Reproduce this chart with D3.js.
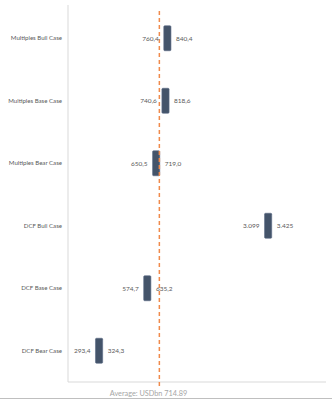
<!DOCTYPE html>
<html><head><meta charset="utf-8">
<script src="https://cdn.jsdelivr.net/npm/d3@7/dist/d3.min.js"></script>
<style>
html,body{margin:0;padding:0;background:#fff;}
svg{display:block;font-family:Lato,"Liberation Sans",sans-serif;}
</style></head>
<body><svg id="c" width="332" height="403"></svg>
<script>
const categories = ["Multiples Bull Case","Multiples Base Case","Multiples Bear Case","DCF Bull Case","DCF Base Case","DCF Bear Case"];
const lowValues = [760.4, 740.6, 650.5, 3099, 574.7, 293.4];
const highValues = [840.4, 818.6, 719.0, 3425, 635.2, 324.3];
const lowLabels = ["760,4","740,6","650,5","3.099","574,7","293,4"];
const highLabels = ["840,4","818,6","719,0","3.425","635,2","324,3"];
const average = 714.89;
const averageLabel = "Average: USDbn 714.89";

(function () {
const svg = d3.select("#c");
const mL = 68, mR = 326, mT = 7, mB = 382;

const x = d3.scaleLog().domain([200, 7300]).range([mL, mR]);
const y = d3.scaleBand().domain(categories).range([mT, mB]).paddingInner(0.6).paddingOuter(0.3);

// axes lines
svg.append("line").attr("x1", mL).attr("x2", mL).attr("y1", 5).attr("y2", mB)
  .attr("stroke", "#d9d9d9").attr("stroke-width", 1);
svg.append("line").attr("x1", mL).attr("x2", mR).attr("y1", mB).attr("y2", mB)
  .attr("stroke", "#d9d9d9").attr("stroke-width", 1);
// bottom frame line
svg.append("line").attr("x1", 0).attr("x2", 332).attr("y1", 398.5).attr("y2", 398.5)
  .attr("stroke", "#bfbfbf").attr("stroke-width", 1);

// category labels
const yAxis = d3.axisLeft(y).tickSize(0).tickPadding(6);
const ga = svg.append("g").attr("transform", `translate(${mL},0)`).call(yAxis);
ga.select(".domain").remove();
ga.selectAll("text").attr("font-size", 6.1).attr("fill", "#595959").attr("font-family", "Lato, sans-serif");

const rows = categories.map((c, i) => ({c, lo: lowValues[i], hi: highValues[i], ll: lowLabels[i], hl: highLabels[i]}));

// bars
svg.selectAll("rect.bar").data(rows).enter().append("rect").attr("class", "bar")
  .attr("x", d => x(d.lo)).attr("width", d => x(d.hi) - x(d.lo))
  .attr("y", d => y(d.c)).attr("height", y.bandwidth())
  .attr("rx", 1).attr("fill", "#44546a").attr("stroke", "#5a6a85").attr("stroke-width", 0.6);

// average line
svg.append("line").attr("x1", x(average)).attr("x2", x(average)).attr("y1", 11).attr("y2", 387)
  .attr("stroke", "#f08a4b").attr("stroke-width", 1.5).attr("stroke-dasharray", "4,3");

// value labels
svg.selectAll("text.lo").data(rows).enter().append("text").attr("class", "lo")
  .attr("x", d => x(d.lo) - 5).attr("y", d => y(d.c) + y.bandwidth() / 2)
  .attr("dy", "0.35em").attr("text-anchor", "end")
  .attr("font-size", 6.5).attr("fill", "#595959").text(d => d.ll);
svg.selectAll("text.hi").data(rows).enter().append("text").attr("class", "hi")
  .attr("x", d => x(d.hi) + 5).attr("y", d => y(d.c) + y.bandwidth() / 2)
  .attr("dy", "0.35em").attr("text-anchor", "start")
  .attr("font-size", 6.5).attr("fill", "#595959").text(d => d.hl);

// average label
svg.append("text").attr("x", 148.5).attr("y", 393).attr("dy", "0.35em").attr("text-anchor", "middle")
  .attr("font-size", 7.3).attr("fill", "#a6a6a6").text(averageLabel);
})();
</script></body></html>
